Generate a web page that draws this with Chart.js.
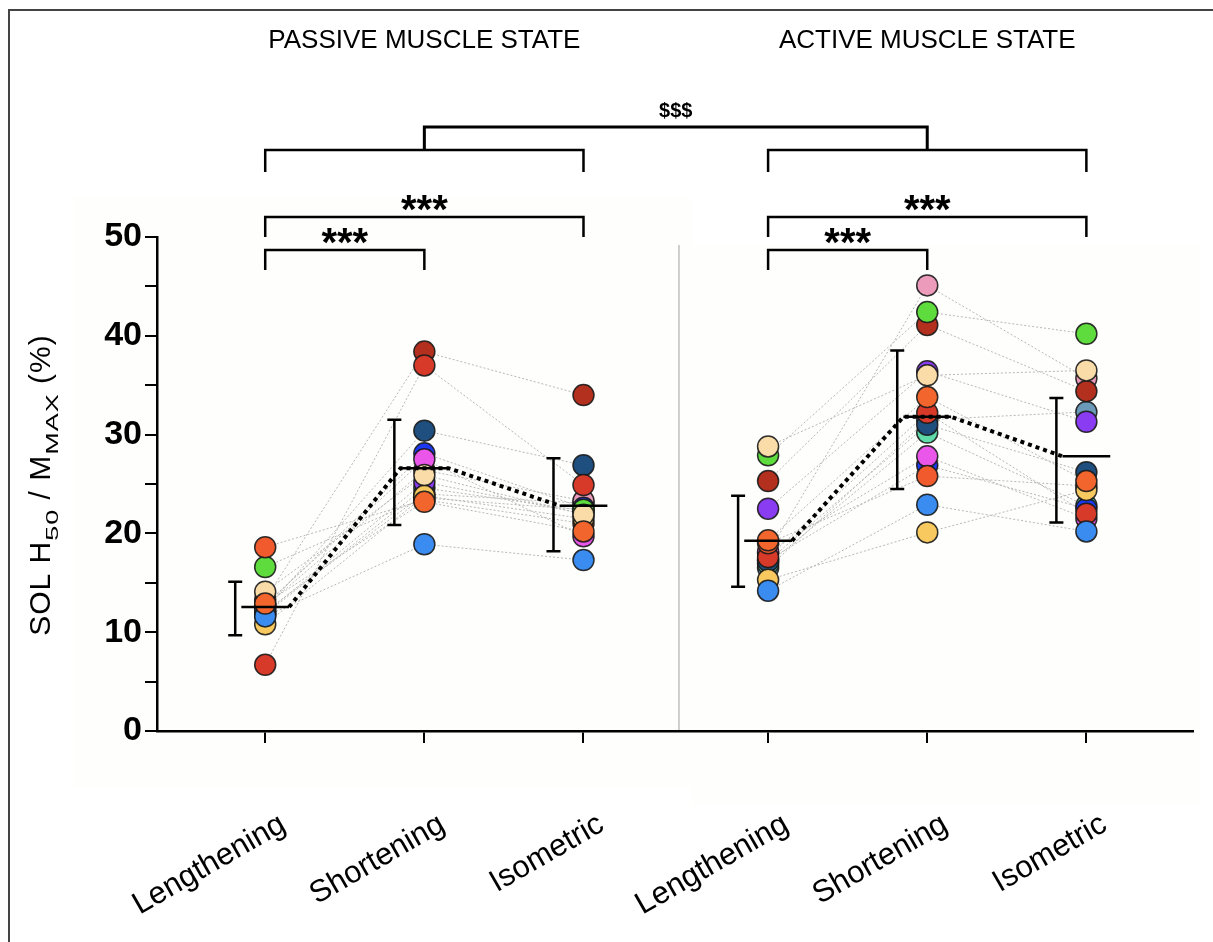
<!DOCTYPE html>
<html>
<head>
<meta charset="utf-8">
<script src="https://cdn.jsdelivr.net/npm/chart.js@4.4.1/dist/chart.umd.min.js"></script>
<style>
  html, body { margin: 0; padding: 0; background: #fff; }
  canvas { display: block; }
</style>
</head>
<body>
<canvas id="h50Chart" width="1213" height="942"></canvas>
<script>
// categories / labels
const conditions = ['Lengthening', 'Shortening', 'Isometric'];
const panelTitles = ['PASSIVE MUSCLE STATE', 'ACTIVE MUSCLE STATE'];
const yTickValues = [0, 10, 20, 30, 40, 50];
const starsLabel = '***';
const dollarLabel = '$$$';

// one colour per participant
const subjectColors = ['#6a9ab8', '#5fdcaa', '#8a3cf2', '#ec9cba', '#1c38f0', '#ea55ea', '#1f4f7e', '#b32f1e',
                       '#d83a2a', '#5edc3e', '#f05a2c', '#f7c95e', '#3b8cf0', '#f9dca8', '#f2662e'];

// individual values (SOL H50 / Mmax, %)
const passiveLengthening = [11.8, 12.1, 11.9, 12.6, 12.7, 12.8, 12.3, 13.3, 6.7, 16.6, 18.6, 10.8, 11.6, 14.1, 12.9];
const passiveShortening  = [24.6, 24.0, 25.2, 26.4, 28.1, 27.5, 30.4, 38.4, 37.0, 23.6, 23.4, 23.8, 18.9, 25.9, 23.2];
const passiveIsometric   = [22.3, 23.05, 22.0, 23.3, 22.6, 19.7, 26.9, 34.0, 24.9, 22.4, 21.0, 21.5, 17.3, 21.9, 20.2];
const activeLengthening  = [16.5, 16.9, 22.5, 18.0, 17.3, 18.15, 17.2, 25.3, 17.6, 27.9, 19.0, 15.3, 14.2, 28.8, 19.3];
const activeShortening   = [31.5, 30.2, 36.4, 45.1, 26.9, 27.8, 31.0, 41.1, 32.2, 42.4, 25.8, 20.1, 22.9, 36.0, 33.8];
const activeIsometric    = [32.3, 22.8, 31.3, 35.7, 22.5, 21.5, 26.2, 34.4, 22.0, 40.2, 24.8, 24.4, 20.2, 36.5, 25.3];

// group mean and SD limits
const passiveMean   = [12.55, 26.6, 22.8];
const passiveSdLow  = [9.7, 20.85, 18.2];
const passiveSdHigh = [15.1, 31.5, 27.6];
const activeMean    = [19.25, 31.8, 27.8];
const activeSdLow   = [14.6, 24.5, 21.1];
const activeSdHigh  = [23.8, 38.5, 33.7];

// layout constants (x axis units)
const PANEL_X = [0, 3.16];
const MEAN_HALF = 0.15;
const DIVIDER_X = 2.6;
const FONT = '"Liberation Sans", Arial, Helvetica, sans-serif';

Chart.defaults.font.family = FONT;
Chart.defaults.color = '#000';

const panels = [
    { values: [passiveLengthening, passiveShortening, passiveIsometric], mean: passiveMean, lo: passiveSdLow, hi: passiveSdHigh },
    { values: [activeLengthening, activeShortening, activeIsometric], mean: activeMean, lo: activeSdLow, hi: activeSdHigh }
];

const tickPositions = [];
const tickLabels = [];
PANEL_X.forEach(off => conditions.forEach((c, i) => { tickPositions.push(off + i); tickLabels.push(c); }));

// thin grey line per participant
const lineDatasets = subjectColors.map((col, s) => {
    const pts = [];
    panels.forEach((p, pi) => {
        p.values.forEach((vals, c) => pts.push({ x: PANEL_X[pi] + c, y: vals[s] }));
        if (pi === 0) pts.push({ x: DIVIDER_X, y: null });
    });
    return {
        data: pts, order: 3, borderColor: '#b8b8b8', borderWidth: 1, borderDash: [2, 2],
        pointRadius: 0, fill: false, tension: 0
    };
});

// all participant markers
const pointData = [];
const pointColors = [];
panels.forEach((p, pi) => {
    p.values.forEach((vals, c) => {
        vals.forEach((v, s) => {
            pointData.push({ x: PANEL_X[pi] + c, y: v });
            pointColors.push(subjectColors[s]);
        });
    });
});

// dotted line joining the means
const meanPath = [];
panels.forEach((p, pi) => {
    p.mean.forEach((m, c) => {
        const x = PANEL_X[pi] + c;
        if (c > 0) meanPath.push({ x: x - MEAN_HALF, y: m });
        if (c < 2) meanPath.push({ x: x + MEAN_HALF, y: m });
    });
    if (pi === 0) meanPath.push({ x: DIVIDER_X, y: null });
});

const backgroundPlugin = {
    id: 'backgroundPlugin',
    beforeDraw(chart) {
        const ctx = chart.ctx;
        ctx.save();
        ctx.fillStyle = '#fff';
        ctx.fillRect(0, 0, chart.width, chart.height);
        // very faint panel backgrounds of the original figure
        ctx.fillStyle = '#fefefc';
        ctx.fillRect(73, 197, 619, 590);
        ctx.fillRect(692, 245, 508, 560);
        // outer frame
        ctx.strokeStyle = '#444';
        ctx.lineWidth = 2;
        ctx.beginPath();
        ctx.moveTo(9, chart.height);
        ctx.lineTo(9, 10);
        ctx.lineTo(chart.width, 10);
        ctx.stroke();
        // panel divider
        const x = chart.scales.x.getPixelForValue(DIVIDER_X);
        ctx.strokeStyle = '#a0a0a0';
        ctx.lineWidth = 1;
        ctx.beginPath();
        ctx.moveTo(x, 245);
        ctx.lineTo(x, chart.chartArea.bottom);
        ctx.stroke();
        ctx.restore();
    }
};

const summaryPlugin = {
    id: 'summaryPlugin',
    afterDatasetsDraw(chart) {
        const ctx = chart.ctx;
        const xs = chart.scales.x, ys = chart.scales.y;
        ctx.save();
        ctx.strokeStyle = '#000';
        ctx.lineWidth = 2.5;
        panels.forEach((p, pi) => {
            p.mean.forEach((m, c) => {
                const xc = xs.getPixelForValue(PANEL_X[pi] + c);
                const xm0 = xs.getPixelForValue(PANEL_X[pi] + c - MEAN_HALF);
                const xm1 = xs.getPixelForValue(PANEL_X[pi] + c + MEAN_HALF);
                const ym = ys.getPixelForValue(m);
                ctx.beginPath();
                ctx.moveTo(xm0, ym);
                ctx.lineTo(xm1, ym);
                ctx.stroke();
                const xe = xc - 30;
                const yh = ys.getPixelForValue(p.hi[c]);
                const yl = ys.getPixelForValue(p.lo[c]);
                ctx.beginPath();
                ctx.moveTo(xe, yh); ctx.lineTo(xe, yl);
                ctx.moveTo(xe - 7, yh); ctx.lineTo(xe + 7, yh);
                ctx.moveTo(xe - 7, yl); ctx.lineTo(xe + 7, yl);
                ctx.stroke();
            });
        });
        ctx.restore();
    },
    afterDraw(chart) {
        const ctx = chart.ctx;
        const xs = chart.scales.x;
        const px = v => xs.getPixelForValue(v);
        ctx.save();
        ctx.strokeStyle = '#000';
        ctx.fillStyle = '#000';
        ctx.lineWidth = 2.5;
        const bracket = (x1, x2, y, drop) => {
            ctx.beginPath();
            ctx.moveTo(x1, y + drop);
            ctx.lineTo(x1, y);
            ctx.lineTo(x2, y);
            ctx.lineTo(x2, y + drop);
            ctx.stroke();
        };
        // panel titles
        ctx.textAlign = 'center';
        ctx.textBaseline = 'alphabetic';
        ctx.font = '26px ' + FONT;
        panelTitles.forEach((t, pi) => ctx.fillText(t, px(PANEL_X[pi] + 1), 48));
        // state comparison
        ctx.lineWidth = 3;
        bracket(px(PANEL_X[0] + 1), px(PANEL_X[1] + 1), 127, 23);
        ctx.lineWidth = 2.5;
        ctx.font = 'bold 20px ' + FONT;
        ctx.fillText(dollarLabel, (px(PANEL_X[0] + 1) + px(PANEL_X[1] + 1)) / 2, 117);
        PANEL_X.forEach(off => {
            bracket(px(off), px(off + 2), 150, 22);
            bracket(px(off), px(off + 2), 217, 20);
            bracket(px(off), px(off + 1), 250, 20);
            ctx.font = 'bold 40px ' + FONT;
            ctx.fillText(starsLabel, (px(off) + px(off + 2)) / 2, 223);
            ctx.fillText(starsLabel, (px(off) + px(off + 1)) / 2, 256);
        });
        // y axis title with subscripts (rotated)
        const parts = [
            ['SOL H', 30, false], ['50', 27, true], [' / M', 30, false], ['MAX', 27, true], [' (%)', 30, false]
        ];
        ctx.letterSpacing = '1px';
        let total = 0;
        parts.forEach(pt => { ctx.font = pt[1] + 'px ' + FONT; total += ctx.measureText(pt[0]).width; });
        ctx.translate(50, 485);
        ctx.rotate(-Math.PI / 2);
        ctx.textAlign = 'left';
        let cx = -total / 2;
        parts.forEach(pt => {
            ctx.font = pt[1] + 'px ' + FONT;
            const w = ctx.measureText(pt[0]).width;
            if (pt[2]) {
                ctx.save();
                ctx.translate(cx, 8);
                ctx.scale(1, 0.62);
                ctx.fillText(pt[0], 0, 0);
                ctx.restore();
            } else {
                ctx.fillText(pt[0], cx, 0);
            }
            cx += w;
        });
        ctx.restore();
    }
};

const ctx = document.getElementById('h50Chart').getContext('2d');
const chart = new Chart(ctx, {
    type: 'line',
    data: {
        datasets: [
            ...lineDatasets,
            {
                data: meanPath, order: 0, borderColor: '#000', borderWidth: 4, borderDash: [4, 4],
                pointRadius: 0, fill: false
            },
            {
                data: pointData, order: 1, showLine: false, pointRadius: 10.5,
                pointBackgroundColor: pointColors, pointBorderColor: 'rgba(25,25,25,0.9)', pointBorderWidth: 1.5
            }
        ]
    },
    options: {
        responsive: false,
        animation: false,
        events: [],
        layout: { padding: { left: 0, top: 237, right: 20, bottom: 0 } },
        plugins: { legend: { display: false }, tooltip: { enabled: false } },
        scales: {
            x: {
                type: 'linear',
                min: -0.68,
                max: 5.83,
                afterBuildTicks: scale => { scale.ticks = tickPositions.map(v => ({ value: v })); },
                afterFit: scale => { scale.height = 942 - 731; },
                ticks: {
                    callback: (v, i) => tickLabels[i],
                    autoSkip: false,
                    minRotation: 30,
                    maxRotation: 30,
                    padding: 63,
                    labelOffset: 18,
                    font: { size: 31 },
                    color: '#000'
                },
                grid: { drawOnChartArea: false, tickLength: 12, color: '#000', lineWidth: 2 },
                border: { color: '#000', width: 2.5 }
            },
            y: {
                min: 0,
                max: 50,
                afterBuildTicks: scale => {
                    const t = [];
                    for (let v = 0; v <= 50; v += 5) t.push({ value: v });
                    scale.ticks = t;
                },
                afterFit: scale => { scale.width = 157; },
                ticks: {
                    callback: v => (yTickValues.includes(v) ? String(v) : ''),
                    font: { size: 34, weight: 'bold' },
                    color: '#000',
                    padding: 3
                },
                grid: { drawOnChartArea: false, tickLength: 12, color: '#000', lineWidth: 2 },
                border: { color: '#000', width: 2.5 }
            }
        }
    },
    plugins: [backgroundPlugin, summaryPlugin]
});
</script>
</body>
</html>
